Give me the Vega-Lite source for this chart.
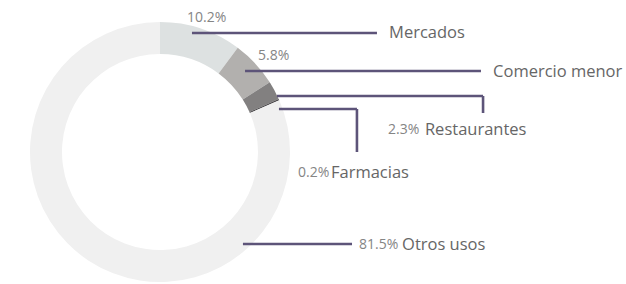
{
  "$schema": "https://vega.github.io/schema/vega-lite/v6.json",
  "width": 626,
  "height": 284,
  "padding": 0,
  "autosize": {"type": "none"},
  "background": "white",
  "config": {"view": {"stroke": null}},
  "datasets": {
    "shares": [
      {"cat": "Mercados", "share": 0.102, "k": 1},
      {"cat": "Comercio menor", "share": 0.058, "k": 2},
      {"cat": "Restaurantes", "share": 0.023, "k": 3},
      {"cat": "Farmacias", "share": 0.002, "k": 4},
      {"cat": "Otros usos", "share": 0.815, "k": 5}
    ],
    "leaders": [
      {"cat": "Mercados", "u1": 0.246, "v1": 0.915, "u2": 1.669, "v2": 0.915},
      {"cat": "Comercio menor", "u1": 0.654, "v1": 0.623, "u2": 2.469, "v2": 0.623},
      {"cat": "Restaurantes", "u1": 0.9, "v1": 0.431, "u2": 2.485, "v2": 0.431},
      {"cat": "Restaurantes", "u1": 2.485, "v1": 0.431, "u2": 2.485, "v2": 0.3},
      {"cat": "Farmacias", "u1": 0.915, "v1": 0.331, "u2": 1.515, "v2": 0.331},
      {"cat": "Farmacias", "u1": 1.515, "v1": 0.331, "u2": 1.515, "v2": 0.0},
      {"cat": "Otros usos", "u1": 0.638, "v1": -0.708, "u2": 1.477, "v2": -0.708}
    ],
    "labels": [
      {"cat": "Mercados", "share": 0.102, "pu": 0.208, "pv": 1.031, "nu": 1.762, "nv": 0.915},
      {"cat": "Comercio menor", "share": 0.058, "pu": 0.754, "pv": 0.738, "nu": 2.562, "nv": 0.615},
      {"cat": "Restaurantes", "share": 0.023, "pu": 1.754, "pv": 0.169, "nu": 2.038, "nv": 0.169},
      {"cat": "Farmacias", "share": 0.002, "pu": 1.062, "pv": -0.162, "nu": 1.315, "nv": -0.162},
      {"cat": "Otros usos", "share": 0.815, "pu": 1.531, "pv": -0.715, "nu": 1.862, "nv": -0.715}
    ]
  },
  "layer": [
    {
      "data": {"name": "shares"},
      "mark": {"type": "arc", "outerRadius": 130, "innerRadius": 98},
      "encoding": {
        "theta": {"field": "share", "type": "quantitative", "stack": true},
        "order": {"field": "k", "type": "quantitative"},
        "color": {
          "field": "cat",
          "type": "nominal",
          "scale": {
            "domain": ["Mercados", "Comercio menor", "Restaurantes", "Farmacias", "Otros usos"],
            "range": ["#dde1e1", "#b2b0ae", "#828080", "#4f4d4f", "#f0f0f0"]
          },
          "legend": null
        },
        "x": {"datum": 0, "type": "quantitative", "scale": {"domain": [-1.23077, 3.58462], "nice": false, "zero": false}, "axis": null},
        "y": {"datum": 0, "type": "quantitative", "scale": {"domain": [-1.01538, 1.16923], "nice": false, "zero": false}, "axis": null}
      }
    },
    {
      "data": {"name": "leaders"},
      "mark": {"type": "rule", "stroke": "#5d5479", "strokeWidth": 2.6},
      "encoding": {
        "x": {"field": "u1", "type": "quantitative"},
        "y": {"field": "v1", "type": "quantitative"},
        "x2": {"field": "u2"},
        "y2": {"field": "v2"}
      }
    },
    {
      "data": {"name": "labels"},
      "mark": {"type": "text", "align": "left", "baseline": "middle", "font": "Open Sans", "fontSize": 14, "fill": "#858585"},
      "encoding": {
        "x": {"field": "pu", "type": "quantitative"},
        "y": {"field": "pv", "type": "quantitative"},
        "text": {"field": "share", "type": "quantitative", "format": ".1%"}
      }
    },
    {
      "data": {"name": "labels"},
      "mark": {"type": "text", "align": "left", "baseline": "middle", "font": "Open Sans", "fontSize": 16.5, "fill": "#666666"},
      "encoding": {
        "x": {"field": "nu", "type": "quantitative"},
        "y": {"field": "nv", "type": "quantitative"},
        "text": {"field": "cat", "type": "nominal"}
      }
    }
  ]
}
